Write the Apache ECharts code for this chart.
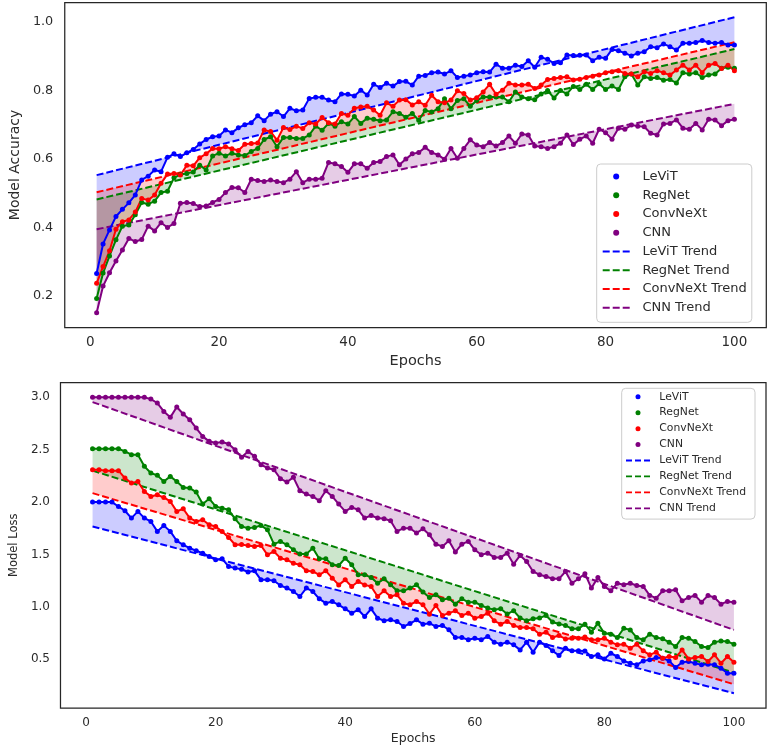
<!DOCTYPE html>
<html>
<head>
<meta charset="utf-8">
<script src="https://cdn.jsdelivr.net/npm/echarts@6/dist/echarts.min.js"></script>
<style>
html,body{margin:0;padding:0;background:#fff;}
#chart{width:771px;height:749px;}
</style>
</head>
<body>
<div id="chart"></div>
<script>
// ---------- data ----------
const epochs = [1,2,3,4,5,6,7,8,9,10,11,12,13,14,15,16,17,18,19,20,21,22,23,24,25,26,27,28,29,30,31,32,33,34,35,36,37,38,39,40,41,42,43,44,45,46,47,48,49,50,51,52,53,54,55,56,57,58,59,60,61,62,63,64,65,66,67,68,69,70,71,72,73,74,75,76,77,78,79,80,81,82,83,84,85,86,87,88,89,90,91,92,93,94,95,96,97,98,99,100];
const trendEpochs = [1, 100];
const modelNames = ['LeViT', 'RegNet', 'ConvNeXt', 'CNN'];

const accLeViT = [0.266,0.352,0.393,0.432,0.453,0.472,0.495,0.539,0.550,0.568,0.563,0.605,0.615,0.607,0.618,0.628,0.644,0.657,0.665,0.667,0.685,0.677,0.691,0.700,0.706,0.726,0.712,0.731,0.738,0.724,0.748,0.741,0.743,0.777,0.780,0.780,0.772,0.767,0.790,0.789,0.784,0.801,0.787,0.818,0.809,0.821,0.813,0.826,0.827,0.816,0.842,0.844,0.852,0.854,0.848,0.858,0.838,0.842,0.845,0.852,0.855,0.854,0.877,0.865,0.865,0.874,0.870,0.887,0.868,0.897,0.891,0.879,0.881,0.904,0.902,0.903,0.904,0.887,0.897,0.894,0.920,0.916,0.909,0.901,0.909,0.913,0.928,0.925,0.936,0.928,0.918,0.938,0.938,0.940,0.946,0.940,0.938,0.940,0.933,0.933];
const accRegNet = [0.193,0.267,0.317,0.364,0.404,0.407,0.437,0.473,0.468,0.477,0.502,0.506,0.545,0.555,0.558,0.562,0.582,0.568,0.609,0.617,0.609,0.617,0.612,0.610,0.622,0.631,0.657,0.665,0.636,0.663,0.663,0.660,0.660,0.670,0.696,0.684,0.704,0.696,0.709,0.702,0.724,0.704,0.719,0.716,0.712,0.714,0.738,0.733,0.722,0.733,0.713,0.742,0.737,0.747,0.776,0.747,0.771,0.776,0.754,0.771,0.781,0.781,0.781,0.781,0.767,0.796,0.781,0.776,0.773,0.790,0.800,0.778,0.800,0.790,0.812,0.803,0.818,0.803,0.820,0.803,0.813,0.803,0.840,0.848,0.816,0.840,0.835,0.838,0.830,0.832,0.822,0.852,0.848,0.852,0.838,0.845,0.848,0.865,0.868,0.865];
const accConvNeXt = [0.237,0.286,0.332,0.395,0.417,0.422,0.445,0.485,0.480,0.495,0.529,0.556,0.558,0.553,0.582,0.580,0.604,0.615,0.631,0.630,0.636,0.630,0.625,0.643,0.645,0.647,0.685,0.680,0.655,0.692,0.686,0.696,0.689,0.706,0.702,0.721,0.706,0.702,0.733,0.728,0.748,0.752,0.754,0.743,0.728,0.764,0.754,0.772,0.773,0.758,0.767,0.757,0.786,0.767,0.764,0.772,0.799,0.791,0.772,0.779,0.796,0.818,0.789,0.801,0.821,0.816,0.816,0.818,0.806,0.816,0.832,0.835,0.838,0.840,0.831,0.833,0.838,0.842,0.845,0.852,0.855,0.858,0.850,0.848,0.840,0.855,0.850,0.858,0.852,0.845,0.860,0.874,0.860,0.874,0.852,0.874,0.879,0.864,0.874,0.858];
const accCNN = [0.151,0.229,0.268,0.302,0.334,0.368,0.359,0.365,0.404,0.390,0.414,0.400,0.412,0.471,0.473,0.470,0.461,0.463,0.473,0.482,0.502,0.517,0.516,0.502,0.541,0.537,0.534,0.539,0.534,0.531,0.541,0.563,0.531,0.541,0.541,0.544,0.590,0.586,0.578,0.561,0.586,0.586,0.573,0.590,0.593,0.607,0.612,0.583,0.600,0.615,0.619,0.634,0.619,0.612,0.599,0.631,0.602,0.631,0.656,0.641,0.636,0.648,0.638,0.648,0.667,0.646,0.673,0.670,0.638,0.636,0.631,0.636,0.646,0.670,0.642,0.658,0.667,0.646,0.687,0.677,0.658,0.690,0.687,0.699,0.696,0.694,0.675,0.670,0.702,0.704,0.714,0.690,0.687,0.704,0.685,0.716,0.714,0.697,0.712,0.716];

const accTrendLeViT = [0.553, 1.014];
const accTrendRegNet = [0.482, 0.921];
const accTrendConvNeXt = [0.503, 0.941];
const accTrendCNN = [0.395, 0.761];

const lossLeViT = [2.000,2.000,2.000,2.000,1.958,1.917,1.847,1.911,1.847,1.815,1.720,1.777,1.720,1.630,1.592,1.560,1.535,1.512,1.480,1.448,1.458,1.385,1.369,1.358,1.332,1.343,1.257,1.257,1.248,1.203,1.178,1.146,1.098,1.178,1.146,1.076,1.034,1.050,1.018,0.980,0.939,0.971,0.907,0.980,0.891,0.866,0.875,0.859,0.811,0.840,0.875,0.834,0.843,0.811,0.821,0.780,0.706,0.706,0.684,0.700,0.684,0.716,0.662,0.643,0.662,0.636,0.588,0.662,0.566,0.662,0.630,0.579,0.534,0.604,0.579,0.579,0.577,0.525,0.541,0.502,0.556,0.525,0.483,0.461,0.445,0.483,0.493,0.515,0.509,0.483,0.420,0.470,0.477,0.461,0.445,0.451,0.445,0.413,0.366,0.366];
const lossRegNet = [2.509,2.509,2.509,2.509,2.509,2.484,2.452,2.452,2.341,2.277,2.255,2.197,2.245,2.197,2.140,2.134,2.095,1.981,2.032,1.958,1.942,1.926,1.840,1.767,1.751,1.757,1.777,1.735,1.598,1.624,1.592,1.544,1.503,1.503,1.560,1.458,1.458,1.401,1.394,1.464,1.401,1.305,1.305,1.280,1.225,1.267,1.210,1.152,1.152,1.178,1.210,1.140,1.089,1.115,1.066,1.082,1.025,1.076,1.044,1.044,1.012,0.987,0.971,0.981,0.930,0.962,0.892,0.867,0.886,0.892,0.917,0.854,0.835,0.822,0.789,0.790,0.834,0.757,0.843,0.747,0.738,0.706,0.795,0.779,0.706,0.684,0.738,0.706,0.694,0.662,0.620,0.706,0.700,0.668,0.620,0.611,0.662,0.674,0.668,0.643];
const lossConvNeXt = [2.309,2.309,2.300,2.300,2.300,2.229,2.181,2.197,2.101,2.054,2.069,2.044,2.006,1.911,1.936,1.847,1.815,1.831,1.783,1.767,1.719,1.662,1.592,1.595,1.584,1.576,1.585,1.496,1.528,1.464,1.448,1.416,1.401,1.343,1.337,1.305,1.343,1.273,1.209,1.257,1.193,1.241,1.209,1.193,1.098,1.152,1.098,1.114,1.034,1.020,1.050,1.019,0.929,1.012,0.917,0.939,0.961,0.917,0.939,0.891,0.907,0.939,0.866,0.834,0.859,0.821,0.802,0.802,0.789,0.738,0.757,0.706,0.725,0.693,0.700,0.700,0.711,0.684,0.684,0.700,0.662,0.636,0.642,0.604,0.642,0.579,0.541,0.566,0.509,0.525,0.515,0.588,0.502,0.515,0.525,0.477,0.541,0.461,0.525,0.470];
const lossCNN = [3.000,3.000,3.000,3.000,3.000,3.000,3.000,3.000,3.000,2.984,2.946,2.866,2.809,2.908,2.841,2.787,2.707,2.627,2.580,2.564,2.573,2.554,2.500,2.427,2.484,2.437,2.357,2.325,2.309,2.223,2.191,2.236,2.108,2.076,2.054,2.012,2.108,2.054,1.981,1.911,1.949,1.926,1.847,1.872,1.847,1.840,1.821,1.719,1.751,1.750,1.704,1.745,1.687,1.598,1.576,1.630,1.522,1.598,1.624,1.544,1.496,1.512,1.471,1.471,1.512,1.407,1.490,1.432,1.337,1.305,1.289,1.267,1.267,1.337,1.225,1.268,1.316,1.178,1.280,1.194,1.152,1.225,1.210,1.225,1.203,1.194,1.108,1.082,1.152,1.152,1.162,1.057,1.089,1.108,1.044,1.108,1.089,1.025,1.051,1.044];

const lossTrendLeViT = [1.767, 0.174];
const lossTrendRegNet = [2.300, 0.370];
const lossTrendConvNeXt = [2.085, 0.260];
const lossTrendCNN = [2.955, 0.779];

const accTicks = [0.2, 0.4, 0.6, 0.8, 1.0];
const lossTicks = [0.5, 1.0, 1.5, 2.0, 2.5, 3.0];
const epochTicks = [0, 20, 40, 60, 80, 100];

// ---------- styles ----------
const lineColors = {LeViT:'#0000ff', RegNet:'#008000', ConvNeXt:'#ff0000', CNN:'#800080'};
const fillColors = {LeViT:'rgba(0,0,255,0.2)', RegNet:'rgba(0,128,0,0.2)', ConvNeXt:'rgba(255,0,0,0.2)', CNN:'rgba(128,0,128,0.2)'};
const textColor = '#2b2b2b';
const FONT = 'DejaVu Sans';

const accData = {LeViT:accLeViT, RegNet:accRegNet, ConvNeXt:accConvNeXt, CNN:accCNN};
const accTrend = {LeViT:accTrendLeViT, RegNet:accTrendRegNet, ConvNeXt:accTrendConvNeXt, CNN:accTrendCNN};
const lossData = {LeViT:lossLeViT, RegNet:lossRegNet, ConvNeXt:lossConvNeXt, CNN:lossCNN};
const lossTrend = {LeViT:lossTrendLeViT, RegNet:lossTrendRegNet, ConvNeXt:lossTrendConvNeXt, CNN:lossTrendCNN};

function bandSeries(idx, vals, trend, color) {
  return {
    type: 'custom', xAxisIndex: idx, yAxisIndex: idx, silent: true, z: 1, clip: true,
    data: vals.map((v, i) => [epochs[i], v]),
    renderItem: function (params, api) {
      if (params.dataIndex !== 0) return null;
      const pts = vals.map((v, i) => api.coord([epochs[i], v]));
      pts.push(api.coord([trendEpochs[1], trend[1]]));
      pts.push(api.coord([trendEpochs[0], trend[0]]));
      return {type: 'polygon', shape: {points: pts}, style: {fill: color, stroke: null}};
    }
  };
}

function dataSeries(idx, name, vals) {
  return {
    type: 'line', name: name, xAxisIndex: idx, yAxisIndex: idx, z: 4,
    data: vals.map((v, i) => [epochs[i], v]),
    symbol: 'circle', symbolSize: 5, showSymbol: true,
    lineStyle: {color: lineColors[name], width: 2},
    itemStyle: {color: lineColors[name]},
    emphasis: {disabled: true}
  };
}

function trendSeries(idx, name, trend) {
  return {
    type: 'line', name: name + ' Trend', xAxisIndex: idx, yAxisIndex: idx, z: 3,
    data: trend.map((v, i) => [trendEpochs[i], v]),
    symbol: 'none',
    lineStyle: {color: lineColors[name], width: 2, type: [7, 3]},
    itemStyle: {color: lineColors[name]},
    emphasis: {disabled: true}
  };
}

const series = [];
[[0, accData, accTrend], [1, lossData, lossTrend]].forEach(([idx, d, t]) => {
  modelNames.forEach(n => series.push(bandSeries(idx, d[n], t[n], fillColors[n])));
  modelNames.forEach(n => series.push(dataSeries(idx, n, d[n])));
  modelNames.forEach(n => series.push(trendSeries(idx, n, t[n])));
});

// dashed legend icons (three dashes)
const dashIconTop = 'path://M0,0h7v2h-7z M10,0h7v2h-7z M20,0h7v2h-7z';
const dashIconBottom = 'path://M0,0h6v1.8h-6z M9,0h6v1.8h-6z M18,0h6v1.8h-6z';

function legendData(dashIcon) {
  return modelNames.map(n => ({name: n, icon: 'circle'}))
    .concat(modelNames.map(n => ({name: n + ' Trend', icon: dashIcon, itemStyle: {color: lineColors[n]}})));
}

function xAxis(idx, fs, margin, nameGap, nameFs) {
  return {
    type: 'value', gridIndex: idx, min: -3.95, max: 104.95,
    axisLine: {show: false}, axisTick: {show: false}, splitLine: {show: false},
    axisLabel: {customValues: epochTicks, color: textColor, fontFamily: FONT, fontSize: fs, margin: margin},
    name: 'Epochs', nameLocation: 'middle', nameGap: nameGap,
    nameTextStyle: {color: textColor, fontFamily: FONT, fontSize: nameFs}
  };
}
function yAxis(idx, min, max, ticks, name, fs, margin, nameGap, nameFs) {
  return {
    type: 'value', gridIndex: idx, min: min, max: max,
    axisLine: {show: false}, axisTick: {show: false}, splitLine: {show: false},
    axisLabel: {customValues: ticks, color: textColor, fontFamily: FONT, fontSize: fs, margin: margin,
      formatter: v => Number(v).toFixed(1)},
    name: name, nameLocation: 'middle', nameGap: nameGap, nameRotate: 90,
    nameTextStyle: {color: textColor, fontFamily: FONT, fontSize: nameFs}
  };
}

const option = {
  animation: false,
  backgroundColor: '#ffffff',
  grid: [
    {left: 55.8, top: 2.5, width: 710.5, height: 325, show: true, borderColor: '#262626', borderWidth: 1.25, backgroundColor: 'transparent'},
    {left: 51.5, top: 382.6, width: 714.5, height: 325.4, show: true, borderColor: '#262626', borderWidth: 1.25, backgroundColor: 'transparent'}
  ],
  xAxis: [xAxis(0, 13.5, 8, 26, 14.5), xAxis(1, 12, 8.5, 24.5, 12.5)],
  yAxis: [
    yAxis(0, 0.108, 1.057, accTicks, 'Model Accuracy', 12.8, 11.5, 39.5, 14),
    yAxis(1, 0.033, 3.141, lossTicks, 'Model Loss', 12, 10.5, 39, 11.5)
  ],
  legend: [
    {
      orient: 'vertical', left: 596.7, top: 164, itemWidth: 27, itemHeight: 6, itemGap: 3.76,
      padding: [5, 5, 7, 6], backgroundColor: 'rgba(255,255,255,0.8)', borderColor: '#cccccc', borderWidth: 1, borderRadius: 4,
      textStyle: {color: textColor, fontFamily: FONT, fontSize: 13, lineHeight: 15, padding: [0, 0, 0, 7.7]},
      selectedMode: false, data: legendData(dashIconTop)
    },
    {
      orient: 'vertical', left: 621.7, top: 388.3, itemWidth: 24, itemHeight: 5, itemGap: 3.44,
      padding: [2.2, 9, 4.5, 4.3], backgroundColor: 'rgba(255,255,255,0.8)', borderColor: '#cccccc', borderWidth: 1, borderRadius: 4,
      textStyle: {color: textColor, fontFamily: FONT, fontSize: 10.8, lineHeight: 12.5, padding: [0, 0, 0, 4.3]},
      selectedMode: false, data: legendData(dashIconBottom)
    }
  ],
  series: series
};

const chart = echarts.init(document.getElementById('chart'), null, {renderer: 'canvas'});
chart.setOption(option);
</script>
</body>
</html>
